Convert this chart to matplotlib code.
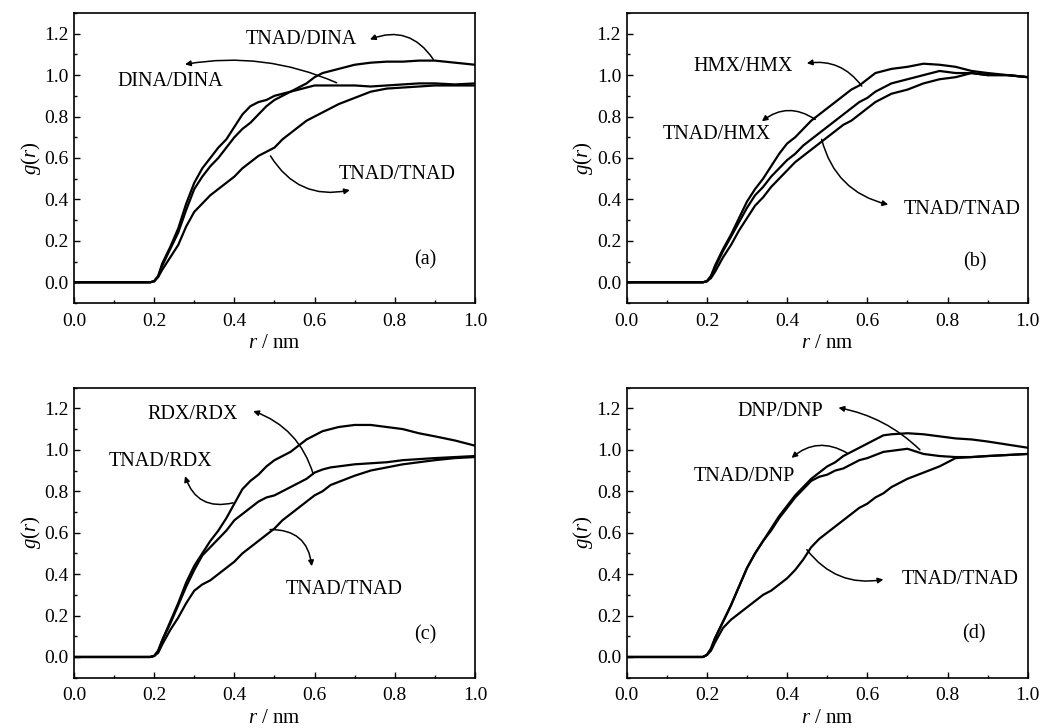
import matplotlib
matplotlib.use("Agg")
import matplotlib.pyplot as plt
from matplotlib.ticker import MultipleLocator

plt.rcParams["font.family"] = ["Liberation Serif", "DejaVu Serif"]
plt.rcParams["mathtext.fontset"] = "custom"
plt.rcParams["mathtext.rm"] = "Liberation Serif"
plt.rcParams["mathtext.it"] = "Liberation Serif:italic"

# r / nm grid, shared by all curves
r = [0.0, 0.19, 0.20, 0.21, 0.22, 0.24, 0.26, 0.28, 0.30, 0.32, 0.34, 0.36,
     0.38, 0.40, 0.42, 0.44, 0.46, 0.48, 0.50, 0.52, 0.54, 0.56, 0.58, 0.60,
     0.62, 0.64, 0.66, 0.70, 0.74, 0.78, 0.82, 0.86, 0.90, 0.95, 1.0]

# (a)
a_dina_dina = [0, 0, 0.005, 0.03, 0.09, 0.17, 0.26, 0.38, 0.48, 0.55, 0.60, 0.65,
               0.69, 0.75, 0.81, 0.85, 0.87, 0.88, 0.90, 0.91, 0.92, 0.93, 0.94, 0.95,
               0.95, 0.95, 0.95, 0.95, 0.945, 0.95, 0.955, 0.96, 0.96, 0.955, 0.96]
a_tnad_dina = [0, 0, 0.005, 0.03, 0.08, 0.16, 0.24, 0.35, 0.45, 0.51, 0.56, 0.60,
               0.65, 0.70, 0.74, 0.77, 0.81, 0.85, 0.88, 0.90, 0.92, 0.94, 0.96, 0.99,
               1.01, 1.02, 1.03, 1.05, 1.06, 1.065, 1.065, 1.07, 1.07, 1.06, 1.05]
a_tnad_tnad = [0, 0, 0.005, 0.025, 0.06, 0.12, 0.18, 0.27, 0.34, 0.38, 0.42, 0.45,
               0.48, 0.51, 0.55, 0.58, 0.61, 0.63, 0.65, 0.69, 0.72, 0.75, 0.78, 0.80,
               0.82, 0.84, 0.86, 0.89, 0.92, 0.935, 0.94, 0.945, 0.95, 0.95, 0.95]
# (b)
b_hmx_hmx = [0, 0, 0.005, 0.03, 0.08, 0.16, 0.23, 0.31, 0.39, 0.45, 0.50, 0.56,
             0.62, 0.67, 0.70, 0.74, 0.78, 0.81, 0.84, 0.87, 0.90, 0.93, 0.95, 0.98,
             1.01, 1.02, 1.03, 1.04, 1.055, 1.05, 1.04, 1.02, 1.01, 1.0, 0.99]
b_tnad_hmx = [0, 0, 0.005, 0.03, 0.07, 0.15, 0.22, 0.29, 0.36, 0.42, 0.46, 0.51,
              0.55, 0.59, 0.62, 0.66, 0.69, 0.72, 0.75, 0.78, 0.81, 0.84, 0.87, 0.89,
              0.92, 0.94, 0.96, 0.98, 1.0, 1.02, 1.01, 1.01, 1.0, 1.0, 0.99]
b_tnad_tnad = [0, 0, 0.005, 0.02, 0.05, 0.12, 0.18, 0.25, 0.31, 0.37, 0.41, 0.46,
               0.50, 0.54, 0.58, 0.61, 0.64, 0.67, 0.70, 0.73, 0.76, 0.78, 0.81, 0.84,
               0.87, 0.89, 0.91, 0.93, 0.96, 0.98, 0.99, 1.01, 1.0, 1.0, 0.99]
# (c)
c_rdx_rdx = [0, 0, 0.005, 0.03, 0.08, 0.17, 0.26, 0.36, 0.44, 0.50, 0.56, 0.61,
             0.67, 0.74, 0.81, 0.85, 0.88, 0.92, 0.95, 0.97, 0.99, 1.02, 1.05, 1.07,
             1.09, 1.10, 1.11, 1.12, 1.12, 1.11, 1.10, 1.08, 1.065, 1.045, 1.02]
c_tnad_rdx = [0, 0, 0.005, 0.03, 0.08, 0.16, 0.25, 0.34, 0.42, 0.49, 0.53, 0.57,
              0.61, 0.66, 0.69, 0.72, 0.75, 0.77, 0.78, 0.80, 0.82, 0.84, 0.86, 0.89,
              0.905, 0.915, 0.92, 0.93, 0.935, 0.94, 0.95, 0.955, 0.96, 0.965, 0.97]
c_tnad_tnad = [0, 0, 0.005, 0.02, 0.06, 0.13, 0.19, 0.26, 0.32, 0.35, 0.37, 0.40,
               0.43, 0.46, 0.50, 0.53, 0.56, 0.59, 0.62, 0.66, 0.69, 0.72, 0.75, 0.78,
               0.80, 0.83, 0.845, 0.875, 0.90, 0.915, 0.93, 0.94, 0.95, 0.96, 0.965]
# (d)
d_dnp_dnp = [0, 0, 0.01, 0.04, 0.09, 0.17, 0.25, 0.34, 0.43, 0.50, 0.56, 0.62,
             0.68, 0.73, 0.78, 0.82, 0.86, 0.89, 0.92, 0.94, 0.97, 0.99, 1.01, 1.03,
             1.05, 1.07, 1.075, 1.08, 1.075, 1.065, 1.055, 1.05, 1.04, 1.025, 1.01]
d_tnad_dnp = [0, 0, 0.01, 0.04, 0.09, 0.17, 0.25, 0.34, 0.43, 0.50, 0.56, 0.61,
              0.67, 0.72, 0.77, 0.81, 0.85, 0.87, 0.88, 0.90, 0.91, 0.93, 0.95, 0.96,
              0.975, 0.99, 0.995, 1.005, 0.98, 0.97, 0.965, 0.965, 0.97, 0.975, 0.98]
d_tnad_tnad = [0, 0, 0.01, 0.03, 0.07, 0.14, 0.18, 0.21, 0.24, 0.27, 0.30, 0.32,
               0.35, 0.38, 0.42, 0.47, 0.53, 0.57, 0.60, 0.63, 0.66, 0.69, 0.72, 0.74,
               0.77, 0.79, 0.82, 0.86, 0.89, 0.92, 0.96, 0.965, 0.97, 0.975, 0.98]

panels = [
    ("(a)", [a_dina_dina, a_tnad_dina, a_tnad_tnad]),
    ("(b)", [b_hmx_hmx, b_tnad_hmx, b_tnad_tnad]),
    ("(c)", [c_rdx_rdx, c_tnad_rdx, c_tnad_tnad]),
    ("(d)", [d_dnp_dnp, d_tnad_dnp, d_tnad_tnad]),
]

# label text, text centre, arrow tail (on curve), arrow head, arc radius
notes = {
    "(a)": [("TNAD/DINA", (0.568, 1.17), (0.896, 1.076), (0.738, 1.172), 0.4),
            ("DINA/DINA", (0.24, 0.967), (0.655, 0.963), (0.277, 1.052), 0.15),
            ("TNAD/TNAD", (0.805, 0.52), (0.49, 0.61), (0.688, 0.445), 0.35)],
    "(b)": [("HMX/HMX", (0.291, 1.043), (0.586, 0.947), (0.449, 1.057), 0.3),
            ("TNAD/HMX", (0.224, 0.713), (0.47, 0.786), (0.337, 0.777), 0.36),
            ("TNAD/TNAD", (0.837, 0.351), (0.486, 0.69), (0.652, 0.375), 0.3)],
    "(c)": [("RDX/RDX", (0.295, 1.171), (0.597, 0.881), (0.447, 1.187), 0.25),
            ("TNAD/RDX", (0.215, 0.945), (0.397, 0.744), (0.277, 0.873), -0.45),
            ("TNAD/TNAD", (0.673, 0.325), (0.489, 0.615), (0.593, 0.438), -0.45)],
    "(d)": [("DNP/DNP", (0.384, 1.187), (0.731, 1.0), (0.528, 1.203), 0.15),
            ("TNAD/DNP", (0.293, 0.873), (0.549, 0.985), (0.411, 0.961), 0.35),
            ("TNAD/TNAD", (0.831, 0.374), (0.449, 0.518), (0.64, 0.374), 0.3)],
}
tag_pos = {"(a)": (0.877, 0.106), "(b)": (0.869, 0.098),
           "(c)": (0.877, 0.105), "(d)": (0.866, 0.113)}

fig = plt.figure(figsize=(10.43, 7.28), dpi=100)
boxes = [[0.0709, 0.5838, 0.3845, 0.3984], [0.6009, 0.5838, 0.3845, 0.3984],
         [0.0709, 0.0691, 0.3845, 0.3984], [0.6009, 0.0691, 0.3845, 0.3984]]

for box, (tag, curves) in zip(boxes, panels):
    ax = fig.add_axes(box)
    for g in curves:
        ax.plot(r, g, color="black", lw=1.6)
    ax.set_xlim(0, 1.0)
    ax.set_ylim(-0.1, 1.3)
    ax.xaxis.set_major_locator(MultipleLocator(0.2))
    ax.xaxis.set_minor_locator(MultipleLocator(0.1))
    ax.yaxis.set_minor_locator(MultipleLocator(0.1))
    ax.set_yticks([0, 0.2, 0.4, 0.6, 0.8, 1.0, 1.2])
    ax.xaxis.set_major_formatter(plt.FormatStrFormatter("%.1f"))
    ax.yaxis.set_major_formatter(plt.FormatStrFormatter("%.1f"))
    ax.tick_params(which="both", direction="in", top=False, right=False,
                   labelsize=14, width=1.0)
    ax.tick_params(which="major", length=4, pad=4)
    ax.tick_params(which="minor", length=2.5)
    ax.tick_params(axis="x", which="major", pad=7)
    for s in ax.spines.values():
        s.set_linewidth(1.2)
    ax.set_xlabel(r"$r$ / nm", fontsize=15, labelpad=3)
    ax.set_ylabel(r"$g$($r$)", fontsize=15, labelpad=1)

    for label, tpos, tail, head, rad in notes[tag]:
        ax.text(tpos[0], tpos[1], label, fontsize=14.5, ha="center", va="center")
        ax.annotate("", xy=head, xytext=tail,
                    arrowprops=dict(arrowstyle="-|>", color="black", lw=1.1,
                                    mutation_scale=8, shrinkA=0, shrinkB=0,
                                    connectionstyle="arc3,rad=%s" % rad))
    ax.text(tag_pos[tag][0], tag_pos[tag][1], tag, fontsize=14.5,
            ha="center", va="center")

fig.savefig("out.png", dpi=100)
